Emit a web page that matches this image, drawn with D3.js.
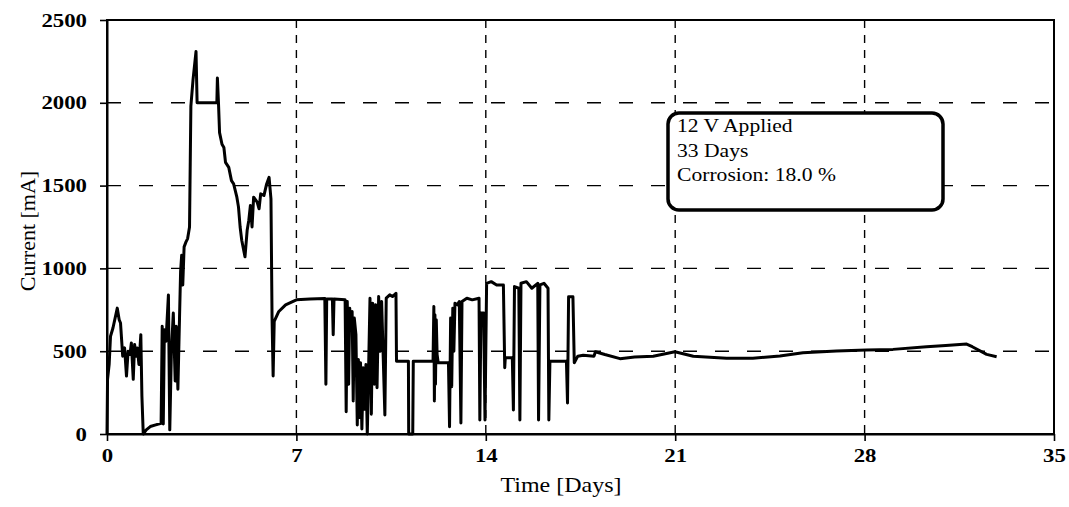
<!DOCTYPE html>
<html>
<head>
<meta charset="utf-8">
<script src="https://cdn.jsdelivr.net/npm/d3@7/dist/d3.min.js"></script>
<style>
  body { margin: 0; background: #fff; }
  svg { display: block; }
</style>
</head>
<body>
<div id="chart"></div>
<script>

// time in days, current in mA, one chunk per line
var days = [
  0.00, 0.02, 0.08, 0.13, 0.22, 0.38, 0.45, 0.50, 0.58, 0.65, 0.72, 0.78, 0.85, 0.90, 0.97, 1.02, 1.08, 1.12, 1.18, 1.25, 1.29, 1.34,
  1.45, 1.60, 1.80, 2.00,
  2.04, 2.08, 2.12, 2.18, 2.27, 2.32, 2.38, 2.45, 2.52, 2.56, 2.62, 2.68, 2.72, 2.76, 2.80, 2.85, 2.92, 2.98, 3.05, 3.10, 3.18, 3.29, 3.33,
  4.06, 4.08, 4.12, 4.16, 4.25, 4.32, 4.38, 4.50, 4.60, 4.68, 4.80, 4.86, 4.92, 4.98, 5.10, 5.18, 5.24, 5.30, 5.36, 5.42, 5.55, 5.62, 5.68, 5.80, 5.90, 5.99, 6.06, 6.10, 6.14, 6.18, 6.35, 6.60, 7.00,
  7.50, 8.05, 8.09, 8.12, 8.33, 8.36, 8.39, 8.80, 8.84, 8.88, 8.93, 8.97, 9.02, 9.06, 9.10, 9.14, 9.20, 9.25, 9.29, 9.33, 9.37, 9.42, 9.47, 9.52, 9.57, 9.62,
  9.72, 9.77, 9.82, 9.88, 9.93, 9.98, 10.04, 10.10, 10.15, 10.27, 10.32, 10.45, 10.55, 10.68, 10.70,
  11.14, 11.15, 11.30, 11.32, 12.05, 12.08, 12.10, 12.12, 12.14, 12.17, 12.20, 12.24, 12.62, 12.66, 12.70, 12.74, 12.78, 12.82, 12.86, 12.95,
  13.02, 13.08, 13.12, 13.30, 13.50, 13.75, 13.78, 13.82, 13.92, 13.97,
  14.03, 14.20, 14.40, 14.65, 14.70, 14.72, 14.98, 15.02, 15.06, 15.22, 15.26, 15.30, 15.50, 15.70, 15.92, 15.95,
  16.00, 16.15, 16.30, 16.33, 16.37, 16.98, 17.02, 17.06, 17.22, 17.27,
  17.40, 17.60, 18.00, 18.05, 18.40, 18.96, 19.50, 20.19, 20.99, 21.67, 22.90, 23.87,
  24.87, 25.72, 26.96, 28.07, 29.05, 30.29, 31.00, 31.77, 31.98, 32.51, 32.88
];

var current = [
  0, 330, 420, 590, 640, 760, 690, 670, 470, 520, 350, 500, 480, 550, 330, 540, 470, 520, 420, 600, 230, 0,
  25, 45, 55, 65,
  650, 60, 630, 560, 840, 25, 500, 730, 320, 650, 270, 700, 980, 1080, 900, 1130, 1160, 1180, 1250, 1980, 2140, 2310, 2000,
  2000, 2150, 2000, 1820, 1750, 1730, 1640, 1610, 1530, 1510, 1430, 1370, 1250, 1170, 1070, 1230, 1290, 1380, 1250, 1430, 1400, 1360, 1450, 1440, 1510, 1550, 1420, 700, 350, 680, 740, 780, 810,
  815, 818, 300, 815, 815, 600, 815, 810, 135, 800, 300, 760, 640, 740, 200, 700, 600, 54, 450, 100, 430, 30, 400, 150, 420, 0,
  820, 120, 790, 300, 780, 280, 830, 500, 800, 115, 820, 840, 830, 850, 440,
  440, 0, 0, 440, 440, 770, 200, 720, 300, 690, 480, 430, 430, 44, 700, 286, 760, 500, 790, 780,
  800, 66, 800, 820, 810, 820, 85, 730, 730, 85,
  910, 920, 900, 900, 400, 460, 460, 145, 890, 880, 85, 910, 920, 880, 910, 85,
  900, 910, 880, 85, 440, 440, 187, 829, 829, 430,
  470, 475, 470, 497, 480, 455, 465, 470, 497, 470, 457, 457,
  471, 491, 501, 507, 511, 527, 535, 543, 527, 481, 467
];

var xTicks = [0, 7, 14, 21, 28, 35];
var yTicks = [0, 500, 1000, 1500, 2000, 2500];
var xGrid = [7, 14, 21, 28];
var yGrid = [500, 1000, 1500, 2000];
var noteLines = ["12 V Applied", "33 Days", "Corrosion: 18.0 %"];


CurrentChart = function(_parentElement, _days, _current){
  this.parentElement = _parentElement;
  this.data = _days.map((d, i) => ({day: d, mA: _current[i]}));

  this.initVis();
}

CurrentChart.prototype.initVis = function() {
  var vis = this;

  vis.margin = {top: 20, left: 107, bottom: 73, right: 15};
  vis.width = 1069 - vis.margin.left - vis.margin.right;
  vis.height = 507 - vis.margin.top - vis.margin.bottom;
  vis.stretch = 1.2;   // the scan is a bit wider than tall

  vis.svg = d3.select("#" + vis.parentElement).append("svg")
    .attr("width", 1069)
    .attr("height", 507)
    .append("g")
    .attr("transform", "translate(" + vis.margin.left + "," + vis.margin.top + ")");

  vis.xScale = d3.scaleLinear()
    .domain([0, 35])
    .range([0, vis.width]);

  vis.yScale = d3.scaleLinear()
    .domain([0, 2500])
    .range([vis.height, 0]);

  vis.updateVis();
}

CurrentChart.prototype.updateVis = function() {
  var vis = this;
  var serif = "'Liberation Serif', 'Times New Roman', serif";

  // dashed grid
  vis.svg.selectAll(".hgrid")
    .data(yGrid)
    .enter().append("line")
    .attr("class", "hgrid")
    .attr("x1", 0).attr("x2", vis.width)
    .attr("y1", d => vis.yScale(d)).attr("y2", d => vis.yScale(d))
    .attr("stroke", "#000").attr("stroke-width", 1.4)
    .attr("stroke-dasharray", "14,18");

  vis.svg.selectAll(".vgrid")
    .data(xGrid)
    .enter().append("line")
    .attr("class", "vgrid")
    .attr("x1", d => vis.xScale(d)).attr("x2", d => vis.xScale(d))
    .attr("y1", 0).attr("y2", vis.height)
    .attr("stroke", "#000").attr("stroke-width", 1.4)
    .attr("stroke-dasharray", "8,7");

  // frame
  vis.svg.append("rect")
    .attr("width", vis.width)
    .attr("height", vis.height)
    .attr("fill", "none")
    .attr("stroke", "#000")
    .attr("stroke-width", 2);

  var line = d3.line()
    .x(d => vis.xScale(d.day))
    .y(d => vis.yScale(d.mA));

  vis.svg.append("path")
    .datum(vis.data)
    .attr("d", line)
    .attr("fill", "none")
    .attr("stroke", "#000")
    .attr("stroke-width", 3)
    .attr("stroke-linejoin", "round");

  var xAxis = vis.svg.append("g")
    .attr("transform", "translate(0," + vis.height + ")")
    .call(d3.axisBottom(vis.xScale).tickValues(xTicks).tickFormat(d3.format("d"))
      .tickSize(7).tickPadding(8).tickSizeOuter(0));

  var yAxis = vis.svg.append("g")
    .call(d3.axisLeft(vis.yScale).tickValues(yTicks).tickFormat(d3.format("d"))
      .tickSize(7).tickPadding(13).tickSizeOuter(0));

  [xAxis, yAxis].forEach(function(ax) {
    ax.select(".domain").attr("stroke-width", 2);
    ax.selectAll(".tick line").attr("stroke-width", 1.6);
    ax.selectAll("text")
      .attr("fill", "#000")
      .style("font-family", serif)
      .style("font-size", "19px")
      .style("font-weight", "bold");
  });

  xAxis.selectAll("text").attr("transform", "scale(" + vis.stretch + ",1)");
  yAxis.selectAll("text")
    .attr("x", -20 / vis.stretch)
    .attr("transform", "scale(" + vis.stretch + ",1)");

  // axis titles
  vis.svg.append("text")
    .attr("transform", "translate(454," + (vis.height + 58) + ") scale(" + vis.stretch + ",1)")
    .attr("text-anchor", "middle")
    .style("font-family", serif)
    .style("font-size", "20px")
    .text("Time [Days]");

  vis.svg.append("text")
    .attr("transform", "translate(-72," + (vis.height / 2 + 4) + ") rotate(-90)")
    .attr("text-anchor", "middle")
    .style("font-family", serif)
    .style("font-size", "22px")
    .text("Current [mA]");

  // annotation box
  var note = vis.svg.append("g")
    .attr("transform", "translate(" + (668 - vis.margin.left) + "," + (113 - vis.margin.top) + ")");

  note.append("rect")
    .attr("width", 275)
    .attr("height", 97)
    .attr("rx", 11)
    .attr("fill", "#fff")
    .attr("stroke", "#000")
    .attr("stroke-width", 3.5);

  note.selectAll(".note")
    .data(noteLines)
    .enter().append("text")
    .attr("class", "note")
    .attr("transform", (d, i) => "translate(9," + (19 + i * 24.5) + ") scale(" + vis.stretch + ",1)")
    .style("font-family", serif)
    .style("font-size", "18px")
    .text(d => d);
}

var chart = new CurrentChart("chart", days, current);

</script>
</body>
</html>
